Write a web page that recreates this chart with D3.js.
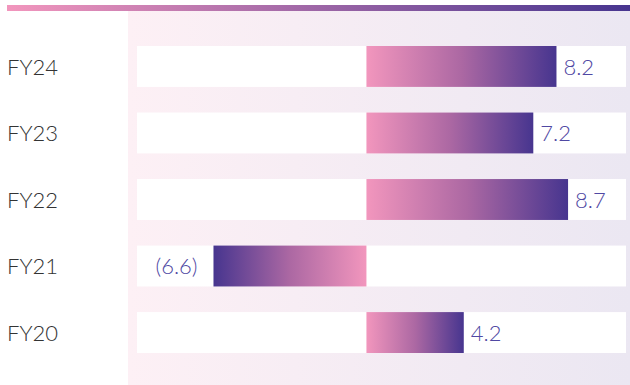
<!DOCTYPE html>
<html>
<head>
<meta charset="utf-8">
<script src="https://cdn.jsdelivr.net/npm/d3@7/dist/d3.min.js"></script>
<style>
  html, body { margin: 0; padding: 0; background: #ffffff; }
  svg { display: block; }
  text { font-family: Lato, "Open Sans", sans-serif; font-weight: 300; }
</style>
</head>
<body>
<div id="chart"></div>
<script>
// Fiscal years, top to bottom
const categories = ["FY24", "FY23", "FY22", "FY21", "FY20"];
// Values per year (negative shown in parentheses)
const values = [8.2, 7.2, 8.7, -6.6, 4.2];
// Value labels as printed
const valueLabels = ["8.2", "7.2", "8.7", "(6.6)", "4.2"];

const W = 630, H = 385;
const pink = "#f296bd", purple = "#47358f";

const svg = d3.select("#chart").append("svg")
  .attr("width", W).attr("height", H);

const defs = svg.append("defs");

// Gradient helper
function grad(id, stops) {
  const g = defs.append("linearGradient").attr("id", id)
    .attr("x1", "0%").attr("x2", "100%").attr("y1", "0%").attr("y2", "0%");
  stops.forEach(([o, c]) => g.append("stop").attr("offset", o).attr("stop-color", c));
}
grad("topLine", [["0%", pink], ["100%", purple]]);
grad("panel", [["0%", "#fdf0f5"], ["100%", "#ebe7f2"]]);
grad("barPos", [["0%", pink], ["50%", "#ac68a3"], ["100%", purple]]);
grad("barNeg", [["0%", purple], ["50%", "#ac68a3"], ["100%", pink]]);

// Scales
const x = d3.scaleLinear().domain([-9.9, 11.2]).range([137, 626]);
const y = d3.scaleBand().domain(categories).range([46, 353]).paddingInner(0.385).paddingOuter(0);

// Top rule
svg.append("rect").attr("x", 7).attr("y", 5).attr("width", W - 7).attr("height", 6)
  .attr("fill", "url(#topLine)");

// Shaded plot panel
svg.append("rect").attr("x", 128).attr("y", 11).attr("width", W - 128).attr("height", H - 11)
  .attr("fill", "url(#panel)");

// White row tracks
svg.selectAll("rect.track").data(categories).join("rect")
  .attr("class", "track")
  .attr("x", x.range()[0])
  .attr("y", d => y(d))
  .attr("width", x.range()[1] - x.range()[0])
  .attr("height", y.bandwidth())
  .attr("fill", "#ffffff");

// Bars
svg.selectAll("rect.bar").data(values).join("rect")
  .attr("class", "bar")
  .attr("x", d => x(Math.min(0, d)))
  .attr("y", (d, i) => y(categories[i]))
  .attr("width", d => Math.abs(x(d) - x(0)))
  .attr("height", y.bandwidth())
  .attr("fill", d => d < 0 ? "url(#barNeg)" : "url(#barPos)");

// Value labels
svg.selectAll("text.val").data(values).join("text")
  .attr("class", "val")
  .attr("x", d => d < 0 ? x(d) - 16 : x(d) + 7)
  .attr("y", (d, i) => y(categories[i]) + y.bandwidth() / 2)
  .attr("dy", "0.38em")
  .attr("text-anchor", d => d < 0 ? "end" : "start")
  .attr("font-size", 22)
  .attr("fill", "#5048a3")
  .text((d, i) => valueLabels[i]);

// Category labels
svg.selectAll("text.cat").data(categories).join("text")
  .attr("class", "cat")
  .attr("x", 7)
  .attr("y", d => y(d) + y.bandwidth() / 2)
  .attr("dy", "0.38em")
  .attr("font-size", 22)
  .attr("fill", "#333333")
  .text(d => d);
</script>
</body>
</html>
